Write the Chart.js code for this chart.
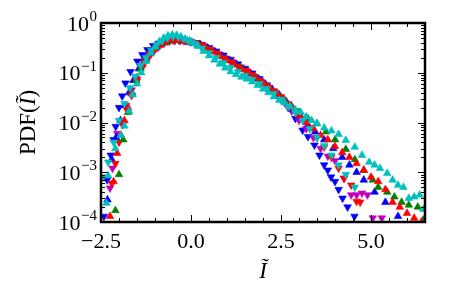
<!DOCTYPE html>
<html>
<head>
<meta charset="utf-8">
<script src="https://cdn.jsdelivr.net/npm/chart.js@4.4.1/dist/chart.umd.min.js"></script>
<style>
html, body { margin: 0; padding: 0; background: #fff; }
</style>
</head>
<body>
<canvas id="c" width="462" height="286"></canvas>
<script>
// tick labels
const xTicks = [-2.5, 0, 2.5, 5.0];
const xTickLabels = ["\u22122.5", "0.0", "2.5", "5.0"];
const yTicks = [1e-4, 1e-3, 1e-2, 1e-1, 1];
const yTickExps = ["\u22124", "\u22123", "\u22122", "\u22121", "0"];

// cyan, up triangles
const cyanUpX = [-2.35, -2.3, -2.1, -1.95, -1.85, -1.72, -1.62, -1.5, -1.38, -1.25, -1.12, -1.0, -0.88, -0.76, -0.64, -0.52, -0.4, -0.28, -0.16, -0.04, 0.08, 0.2, 0.35, 0.5, 0.65, 0.8, 0.95, 1.1, 1.25, 1.4, 1.55, 1.7, 1.85, 2.0, 2.15, 2.3, 2.45, 2.6, 2.75, 2.9, 3.05, 3.2, 3.35, 3.5, 3.7, 3.9, 4.1, 4.3, 4.55, 4.75, 4.95, 5.1, 5.25, 5.45, 5.6, 5.75, 5.9, 6.05, 6.2, 6.35, 6.45];
const cyanUpY = [2.4e-4, 8.5e-4, 3e-3, 5.5e-3, 8.5e-3, 0.017, 0.036, 0.06, 0.1, 0.17, 0.25, 0.33, 0.42, 0.5, 0.56, 0.58, 0.57, 0.53, 0.48, 0.44, 0.39, 0.34, 0.27, 0.22, 0.18, 0.15, 0.125, 0.105, 0.092, 0.082, 0.075, 0.066, 0.056, 0.047, 0.04, 0.033, 0.028, 0.025, 0.021, 0.018, 0.016, 0.013, 0.011, 0.0095, 0.0078, 0.0068, 0.0058, 0.0044, 0.0032, 0.0022, 0.0016, 0.0014, 0.0012, 0.00095, 0.0007, 0.00055, 0.0005, 0.0003, 0.00032, 0.00035, 0.00018];

// cyan, down triangles
const cyanDownX = [-2.45, -2.3, -2.15, -2.0, -1.85, -1.7, -1.55, -1.4, -1.25, -1.1, -0.95, -0.8, -0.65, -0.5, -0.35, -0.2, -0.05, 0.1, 0.3, 0.5, 0.7, 0.9, 1.1, 1.3, 1.5, 1.7, 1.9, 2.1, 2.3, 2.5, 2.7, 2.9, 3.1, 3.3, 3.5, 3.7, 3.9, 4.1, 4.3, 4.55];
const cyanDownY = [8e-4, 1.6e-3, 4e-3, 0.011, 0.024, 0.05, 0.085, 0.14, 0.2, 0.28, 0.36, 0.44, 0.5, 0.53, 0.52, 0.48, 0.43, 0.38, 0.31, 0.25, 0.2, 0.16, 0.128, 0.105, 0.088, 0.073, 0.06, 0.048, 0.038, 0.029, 0.021, 0.016, 0.011, 0.0075, 0.005, 0.0034, 0.0022, 0.0014, 0.0009, 0.0005];

// red, up triangles
const redUpX = [-2.25, -2.15, -2.05, -1.95, -1.85, -1.75, -1.65, -1.5, -1.35, -1.2, -1.05, -0.9, -0.75, -0.6, -0.45, -0.3, -0.15, 0, 0.2, 0.4, 0.6, 0.8, 1.0, 1.2, 1.4, 1.6, 1.8, 2.0, 2.2, 2.4, 2.6, 2.8, 3.0, 3.2, 3.4, 3.6, 3.8, 4.0, 4.2, 4.4, 4.6, 4.8, 5.0, 5.2, 5.4, 5.6, 5.8, 6.0, 6.2, 6.4];
const redUpY = [1.3e-4, 6.5e-4, 2.4e-3, 5.6e-3, 0.011, 0.02, 0.038, 0.08, 0.15, 0.22, 0.29, 0.36, 0.41, 0.45, 0.46, 0.45, 0.43, 0.41, 0.37, 0.32, 0.27, 0.22, 0.18, 0.15, 0.12, 0.105, 0.08, 0.062, 0.048, 0.037, 0.027, 0.02, 0.014, 0.01, 0.0075, 0.0055, 0.0045, 0.0033, 0.0025, 0.002, 0.0015, 0.0011, 0.0008, 0.00065, 0.00045, 0.00025, 0.0002, 0.00015, 0.00012, 0.0001];

// green, up triangles
const greenUpX = [-2.1, -2.0, -1.88, -1.75, -1.63, -1.52, -1.4, -1.25, -1.1, -0.95, -0.8, -0.65, -0.5, -0.35, -0.2, 0, 0.2, 0.4, 0.6, 0.8, 1.0, 1.2, 1.4, 1.6, 1.8, 2.0, 2.2, 2.4, 2.6, 2.8, 3.0, 3.25, 3.5, 3.75, 4.0, 4.3, 4.55, 4.8, 5.05, 5.2, 5.45, 5.65, 5.85, 6.05, 6.3, 6.45];
const greenUpY = [1.7e-4, 9e-4, 4.5e-3, 0.016, 0.039, 0.07, 0.12, 0.18, 0.26, 0.33, 0.39, 0.43, 0.45, 0.45, 0.44, 0.41, 0.37, 0.32, 0.27, 0.22, 0.18, 0.15, 0.125, 0.1, 0.08, 0.063, 0.049, 0.038, 0.028, 0.021, 0.016, 0.012, 0.0095, 0.0065, 0.0045, 0.0029, 0.0018, 0.0011, 0.0007, 0.0005, 0.0004, 0.00032, 0.00025, 0.00022, 0.0002, 0.00011];

// red, down triangles
const redDownX = [-2.2, -2.1, -2.0, -1.9, -1.78, -1.65, -1.52, -1.38, -1.24, -1.1, -0.95, -0.8, -0.65, -0.5, -0.35, -0.2, -0.05, 0.1, 0.3, 0.5, 0.7, 0.9, 1.1, 1.3, 1.5, 1.7, 1.9, 2.1, 2.3, 2.5, 2.7, 2.9, 3.1, 3.3, 3.5, 3.7, 3.9, 4.1, 4.25, 4.45, 4.6, 4.7];
const redDownY = [6e-4, 1.5e-3, 4e-3, 0.009, 0.018, 0.035, 0.065, 0.12, 0.18, 0.25, 0.32, 0.38, 0.43, 0.455, 0.455, 0.44, 0.42, 0.4, 0.36, 0.3, 0.25, 0.2, 0.165, 0.135, 0.112, 0.09, 0.07, 0.055, 0.043, 0.033, 0.024, 0.017, 0.012, 0.0078, 0.005, 0.0032, 0.002, 0.0012, 0.00075, 0.00055, 0.00026, 0.00025];

// blue, up triangles
const blueUpX = [-2.32, -2.2, -2.08, -1.96, -1.84, -1.72, -1.6, -1.45, -1.3, -1.15, -1.0, -0.85, -0.7, -0.55, -0.4, -0.25, -0.1, 0.05, 0.25, 0.45, 0.65, 0.85, 1.05, 1.25, 1.45, 1.65, 1.85, 2.05, 2.25, 2.45, 2.65, 2.85, 3.05, 3.25, 3.45, 3.7, 3.95, 4.2, 4.4, 4.6, 4.8, 5.1, 5.4, 5.75];
const blueUpY = [2.8e-4, 1.8e-3, 0.005, 0.011, 0.022, 0.04, 0.07, 0.12, 0.19, 0.26, 0.33, 0.39, 0.43, 0.45, 0.45, 0.44, 0.42, 0.4, 0.37, 0.32, 0.27, 0.22, 0.18, 0.15, 0.12, 0.098, 0.077, 0.06, 0.047, 0.036, 0.026, 0.018, 0.013, 0.009, 0.0065, 0.0045, 0.003, 0.002, 0.0014, 0.001, 0.0007, 0.0004, 0.00025, 0.00013];

// magenta, down triangles
const magentaDownX = [-2.25, -2.18, -2.05, -1.95, -1.8, -1.65, -1.5, -1.35, -1.2, -1.05, -0.9, -0.75, -0.6, -0.45, -0.3, -0.15, 0, 0.2, 0.4, 0.6, 0.8, 1.0, 1.2, 1.4, 1.6, 1.8, 2.0, 2.2, 2.4, 2.6, 2.8, 3.0, 3.2, 3.4, 3.6, 3.8, 4.0, 4.25, 4.45, 4.6, 4.75, 4.9, 5.05, 5.3];
const magentaDownY = [4.8e-4, 1.2e-3, 0.006, 0.0105, 0.022, 0.045, 0.075, 0.13, 0.19, 0.26, 0.33, 0.39, 0.43, 0.45, 0.45, 0.44, 0.42, 0.38, 0.33, 0.28, 0.23, 0.19, 0.155, 0.125, 0.1, 0.08, 0.062, 0.047, 0.035, 0.025, 0.017, 0.011, 0.0075, 0.005, 0.003, 0.0021, 0.0017, 0.00076, 0.00035, 0.00035, 0.00038, 0.00035, 0.00012, 0.00012];

// blue, down triangles
const blueDownX = [-2.42, -2.33, -2.23, -2.15, -2.09, -2.0, -1.91, -1.82, -1.68, -1.49, -1.35, -1.21, -1.05, -0.9, -0.75, -0.6, -0.45, -0.3, -0.15, 0, 0.15, 0.3, 0.5, 0.7, 0.9, 1.1, 1.3, 1.5, 1.7, 1.9, 2.1, 2.3, 2.5, 2.7, 2.9, 3.1, 3.25, 3.43, 3.57, 3.7, 3.8, 3.89, 4.0, 4.1, 4.21, 4.35, 4.54];
const blueDownY = [1.3e-4, 7e-4, 2.2e-3, 4.5e-3, 8.3e-3, 0.02, 0.034, 0.062, 0.105, 0.17, 0.23, 0.29, 0.35, 0.39, 0.42, 0.44, 0.45, 0.45, 0.44, 0.42, 0.4, 0.37, 0.32, 0.27, 0.225, 0.185, 0.15, 0.122, 0.098, 0.076, 0.057, 0.042, 0.03, 0.02, 0.012, 0.007, 0.0052, 0.0035, 0.0022, 0.0014, 0.0011, 0.0008, 0.00065, 0.00045, 0.0003, 0.0002, 0.00013];

const pts = (xs, ys) => xs.map((x, i) => ({ x: x, y: ys[i] }));

function series(xs, ys, color, down) {
  return {
    data: pts(xs, ys),
    backgroundColor: color,
    borderColor: color,
    borderWidth: 0.6,
    pointStyle: "triangle",
    pointRadius: 4.4,
    pointRotation: down ? 180 : 0,
    showLine: false
  };
}

const SERIF = "'Liberation Serif', 'DejaVu Serif', serif";

// frame, inward ticks, labels and axis titles
const axisPlugin = {
  id: "axisPlugin",
  afterDraw(ch) {
    const ctx = ch.ctx;
    const a = ch.chartArea;
    const xs = ch.scales.x, ys = ch.scales.y;
    ctx.save();
    ctx.strokeStyle = "#000";
    ctx.fillStyle = "#000";

    function tick(x1, y1, x2, y2, w) {
      ctx.lineWidth = w;
      ctx.beginPath();
      ctx.moveTo(x1, y1);
      ctx.lineTo(x2, y2);
      ctx.stroke();
    }

    // x ticks: minor every 0.5, major on labels
    for (let v = -2.5; v <= 6.5001; v += 0.5) {
      const px = Math.round(xs.getPixelForValue(v)) + 0.5;
      const major = xTicks.some(t => Math.abs(t - v) < 1e-6);
      const len = major ? 7 : 4;
      tick(px, a.bottom, px, a.bottom - len, 1);
      tick(px, a.top, px, a.top + len, 1);
    }
    // y ticks: majors each decade, minors 2..9
    for (let d = -4; d <= 0; d++) {
      const base = Math.pow(10, d);
      const py = Math.round(ys.getPixelForValue(base)) + 0.5;
      tick(a.left, py, a.left + 7, py, 1);
      tick(a.right, py, a.right - 7, py, 1);
      if (d < 0) {
        for (let m = 2; m <= 9; m++) {
          const q = Math.round(ys.getPixelForValue(base * m)) + 0.5;
          tick(a.left, q, a.left + 4, q, 1);
          tick(a.right, q, a.right - 4, q, 1);
        }
      }
    }

    // frame
    ctx.lineWidth = 2.5;
    ctx.strokeRect(a.left, a.top, a.right - a.left, a.bottom - a.top);

    // x tick labels
    ctx.font = "22px " + SERIF;
    ctx.textAlign = "center";
    ctx.textBaseline = "alphabetic";
    xTicks.forEach((v, i) => {
      ctx.fillText(xTickLabels[i], xs.getPixelForValue(v), 248);
    });

    // y tick labels 10^n
    const rightEdge = 97;
    yTicks.forEach((v, i) => {
      const py = ys.getPixelForValue(v);
      ctx.textAlign = "right";
      ctx.font = "15px " + SERIF;
      const ew = ctx.measureText(yTickExps[i]).width;
      ctx.fillText(yTickExps[i], rightEdge, py - 2);
      ctx.font = "22px " + SERIF;
      ctx.fillText("10", rightEdge - ew - 0.5, py + 7.5);
    });

    // x title
    ctx.textAlign = "center";
    ctx.font = "italic 23px " + SERIF;
    ctx.fillText("\u0128", (a.left + a.right) / 2, 278);

    // y title PDF(Ĩ)
    ctx.translate(35, (a.top + a.bottom) / 2);
    ctx.rotate(-Math.PI / 2);
    const parts = [["PDF(", "23px "], ["\u0128", "italic 23px "], [")", "23px "]];
    let total = 0;
    parts.forEach(p => { ctx.font = p[1] + SERIF; total += ctx.measureText(p[0]).width; });
    let cx = -total / 2;
    ctx.textAlign = "left";
    parts.forEach(p => {
      ctx.font = p[1] + SERIF;
      ctx.fillText(p[0], cx, 0);
      cx += ctx.measureText(p[0]).width;
    });
    ctx.restore();
  }
};

new Chart(document.getElementById("c"), {
  type: "scatter",
  data: {
    datasets: [
      series(cyanUpX, cyanUpY, "#00bfbf", false),
      series(cyanDownX, cyanDownY, "#00bfbf", true),
      series(redUpX, redUpY, "#ff0000", false),
      series(greenUpX, greenUpY, "#008000", false),
      series(redDownX, redDownY, "#ff0000", true),
      series(blueUpX, blueUpY, "#0000ff", false),
      series(magentaDownX, magentaDownY, "#bf00bf", true),
      series(blueDownX, blueDownY, "#0000ff", true)
    ]
  },
  options: {
    responsive: false,
    animation: false,
    devicePixelRatio: 1,
    layout: { padding: { left: 0, top: 23, right: 37, bottom: 0 } },
    plugins: { legend: { display: false }, tooltip: { enabled: false } },
    scales: {
      x: {
        type: "linear", min: -2.5, max: 6.5,
        grid: { display: false }, border: { display: false },
        ticks: { display: false },
        afterFit: s => { s.height = 64; }
      },
      y: {
        type: "logarithmic", min: 1e-4, max: 1,
        grid: { display: false }, border: { display: false },
        ticks: { display: false },
        afterFit: s => { s.width = 101; }
      }
    }
  },
  plugins: [axisPlugin]
});
</script>
</body>
</html>
